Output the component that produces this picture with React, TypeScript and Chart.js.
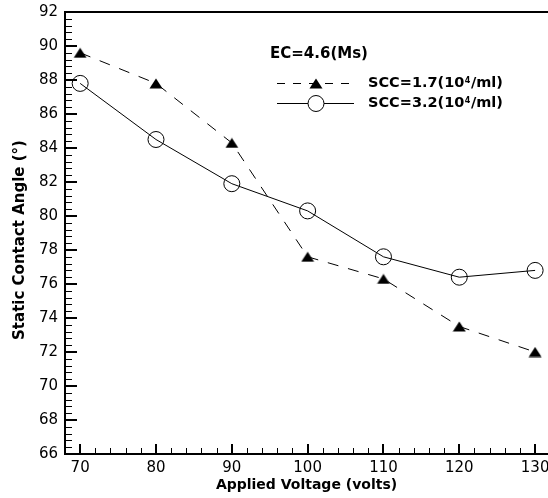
import React, { useEffect, useRef } from 'react';
import { Chart, registerables } from 'chart.js';

Chart.register(...registerables);

// ---- data ----
const voltages = [70, 80, 90, 100, 110, 120, 130];
const scc17 = [89.6, 87.8, 84.3, 77.6, 76.3, 73.5, 72.0];
const scc32 = [87.8, 84.5, 81.9, 80.3, 77.6, 76.4, 76.8];
const xTickValues = [70, 80, 90, 100, 110, 120, 130];
const yTickValues = [66, 68, 70, 72, 74, 76, 78, 80, 82, 84, 86, 88, 90, 92];
const legendBase = ['SCC=1.7(10', 'SCC=3.2(10'];
const legendSup = ['4', '4'];
const legendTail = ['/ml)', '/ml)'];
const legendTitle = 'EC=4.6(Ms)';
const xTitle = 'Applied Voltage (volts)';
const yTitle = 'Static Contact Angle (°)';

const FONT = "'DejaVu Sans', sans-serif";

function makeTriangle(): HTMLCanvasElement {
  const c = document.createElement('canvas');
  c.width = 14;
  c.height = 11;
  const g = c.getContext('2d')!;
  g.fillStyle = '#000';
  g.beginPath();
  g.moveTo(7, 0.5);
  g.lineTo(13.5, 10.5);
  g.lineTo(0.5, 10.5);
  g.closePath();
  g.fill();
  return c;
}

export default function App() {
  const ref = useRef<HTMLCanvasElement>(null);

  useEffect(() => {
    const canvas = ref.current!;
    const tri = makeTriangle();

    const overlay = {
      id: 'overlay',
      afterDraw(chart: any) {
        const { ctx, chartArea: ca, scales } = chart;
        const xs = scales.x;
        const ys = scales.y;
        ctx.save();
        ctx.strokeStyle = '#000';
        ctx.fillStyle = '#000';
        ctx.setLineDash([]);

        // top border
        ctx.lineWidth = 2;
        ctx.beginPath();
        ctx.moveTo(ca.left - 1, ca.top);
        ctx.lineTo(ca.right, ca.top);
        ctx.stroke();

        // y ticks (inward)
        for (let i = 0; i <= 65; i++) {
          const v = ys.min + i * 0.4;
          if (v > ys.max + 1e-6) break;
          const major = i % 5 === 0;
          const py = Math.round(ys.getPixelForValue(v)) + (major ? 0 : 0.5);
          ctx.lineWidth = major ? 2 : 1;
          ctx.beginPath();
          ctx.moveTo(ca.left, py);
          ctx.lineTo(ca.left + (major ? 12 : 7), py);
          ctx.stroke();
        }
        // x ticks (inward)
        for (let i = 1; i < 40; i++) {
          const v = xs.min + i * 2;
          if (v > xs.max) break;
          const major = Math.abs(v % 10) < 1e-6;
          const px = Math.round(xs.getPixelForValue(v)) + (major ? 0 : 0.5);
          ctx.lineWidth = major ? 2 : 1;
          ctx.beginPath();
          ctx.moveTo(px, ca.bottom);
          ctx.lineTo(px, ca.bottom - (major ? 10 : 6));
          ctx.stroke();
        }

        // y title
        ctx.save();
        ctx.translate(20, 240);
        ctx.rotate(-Math.PI / 2);
        ctx.font = `bold 15px ${FONT}`;
        ctx.textAlign = 'center';
        ctx.textBaseline = 'middle';
        ctx.fillText(yTitle, 0, 0);
        ctx.restore();

        // legend
        ctx.font = `bold 15px ${FONT}`;
        ctx.textAlign = 'left';
        ctx.textBaseline = 'middle';
        ctx.fillText(legendTitle, 270, 54);

        const rows = [83.5, 103.5];
        const lx1 = 277;
        const lx2 = 354;
        const mx = 316;
        // row 1 dashed + triangle
        ctx.lineWidth = 1;
        ctx.setLineDash([8, 8]);
        ctx.lineDashOffset = 0;
        ctx.beginPath();
        ctx.moveTo(lx1, rows[0]);
        ctx.lineTo(lx2, rows[0]);
        ctx.stroke();
        ctx.setLineDash([]);
        ctx.drawImage(tri, mx - 7, rows[0] - 5.5);
        // row 2 solid + circle
        ctx.beginPath();
        ctx.moveTo(lx1, rows[1]);
        ctx.lineTo(lx2, rows[1]);
        ctx.stroke();
        ctx.beginPath();
        ctx.arc(mx, rows[1], 8, 0, Math.PI * 2);
        ctx.fillStyle = '#fff';
        ctx.fill();
        ctx.stroke();
        ctx.fillStyle = '#000';

        for (let r = 0; r < 2; r++) {
          let tx = 368;
          const ty = rows[r];
          ctx.font = `bold 14.5px ${FONT}`;
          ctx.textBaseline = 'middle';
          ctx.fillText(legendBase[r], tx, ty);
          tx += ctx.measureText(legendBase[r]).width + 0.5;
          ctx.font = `bold 8px ${FONT}`;
          ctx.textBaseline = 'alphabetic';
          ctx.fillText(legendSup[r], tx, ty - 0.5);
          tx += ctx.measureText(legendSup[r]).width + 0.5;
          ctx.font = `bold 14.5px ${FONT}`;
          ctx.textBaseline = 'middle';
          ctx.fillText(legendTail[r], tx, ty);
        }
        ctx.restore();
      },
    };

    const chart = new Chart(canvas, {
      type: 'line',
      data: {
        datasets: [
          {
            label: 'SCC=1.7(10^4/ml)',
            data: voltages.map((v, i) => ({ x: v, y: scc17[i] })),
            borderColor: '#000',
            backgroundColor: '#000',
            borderWidth: 1,
            borderDash: [11, 10],
            pointStyle: tri as any,
            pointRadius: 7,
            tension: 0,
            fill: false,
          },
          {
            label: 'SCC=3.2(10^4/ml)',
            data: voltages.map((v, i) => ({ x: v, y: scc32[i] })),
            borderColor: '#000',
            backgroundColor: 'rgba(0,0,0,0)',
            borderWidth: 1,
            pointStyle: 'circle',
            pointRadius: 8,
            pointBorderWidth: 1,
            pointBorderColor: '#000',
            pointBackgroundColor: 'rgba(0,0,0,0)',
            tension: 0,
            fill: false,
          },
        ],
      },
      options: {
        animation: false,
        responsive: false,
        devicePixelRatio: 1,
        layout: { padding: { top: 12, left: 0, right: 0, bottom: 0 }, autoPadding: false },
        plugins: {
          legend: { display: false },
          tooltip: { enabled: false },
        },
        scales: {
          x: {
            type: 'linear',
            min: 68,
            max: 131.7,
            afterBuildTicks: (s: any) => {
              s.ticks = xTickValues.map((v) => ({ value: v }));
            },
            afterFit: (s: any) => {
              s.height = 44;
              s.paddingLeft = 0;
              s.paddingRight = 0;
            },
            grid: { display: false, drawTicks: false },
            border: { display: true, color: '#000', width: 2 },
            ticks: {
              autoSkip: false,
              maxRotation: 0,
              padding: 5,
              color: '#000',
              font: { family: FONT, size: 15 },
            },
            title: {
              display: true,
              text: xTitle,
              color: '#000',
              font: { family: FONT, size: 14, weight: 'bold' },
              padding: { top: 0, bottom: 4.6 },
            },
          },
          y: {
            type: 'linear',
            min: 66,
            max: 92,
            afterBuildTicks: (s: any) => {
              s.ticks = yTickValues.map((v) => ({ value: v }));
            },
            afterFit: (s: any) => {
              s.width = 65;
              s.paddingTop = 0;
              s.paddingBottom = 0;
            },
            grid: { display: false, drawTicks: false },
            border: { display: true, color: '#000', width: 2 },
            ticks: {
              padding: 7,
              color: '#000',
              font: { family: FONT, size: 15 },
            },
          },
        },
      },
      plugins: [overlay],
    } as any);

    return () => chart.destroy();
  }, []);

  return (
    <div style={{ position: 'absolute', left: 0, top: 0, width: 548, height: 498, background: '#fff' }}>
      <canvas ref={ref} width={548} height={498} style={{ display: 'block', width: 548, height: 498 }} />
    </div>
  );
}
